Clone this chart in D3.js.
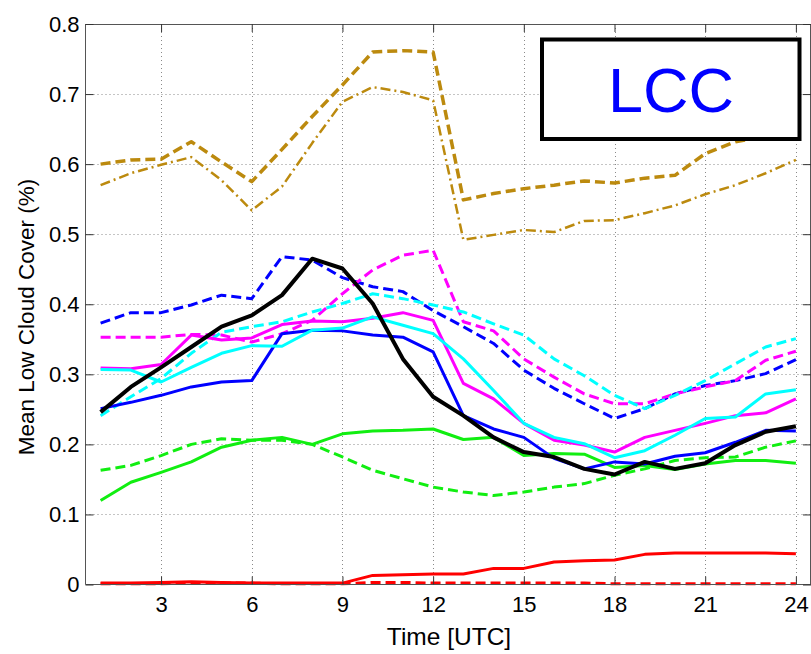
<!DOCTYPE html>
<html>
<head>
<meta charset="utf-8">
<script src="https://cdn.jsdelivr.net/npm/d3@7"></script>
<style>
  html, body { margin: 0; padding: 0; background: #fff; }
  svg { display: block; font-family: "Liberation Sans", Arial, Helvetica, sans-serif; }
</style>
</head>
<body>
<svg id="chart" width="811" height="654"></svg>
<script>
// Hour of day (UTC)
const hours = d3.range(1, 25);
const xTicks = [3, 6, 9, 12, 15, 18, 21, 24];
const yTicks = [0, 0.1, 0.2, 0.3, 0.4, 0.5, 0.6, 0.7, 0.8];

// Mean low cloud cover per hour
const goldDash = [0.600,0.606,0.607,0.632,0.603,0.575,0.621,0.668,0.713,0.760,0.762,0.760,0.549,0.558,0.565,0.570,0.576,0.573,0.580,0.584,0.615,0.632,0.640,0.646];
const goldDashDot = [0.570,0.587,0.599,0.610,0.577,0.534,0.568,0.630,0.689,0.710,0.703,0.691,0.492,0.499,0.506,0.503,0.519,0.520,0.530,0.541,0.557,0.570,0.587,0.606];
const blueDash = [0.373,0.388,0.388,0.399,0.413,0.408,0.468,0.463,0.438,0.425,0.418,0.391,0.368,0.344,0.306,0.280,0.258,0.237,0.251,0.272,0.284,0.291,0.301,0.321];
const magentaDash = [0.353,0.353,0.353,0.357,0.356,0.346,0.358,0.377,0.415,0.449,0.470,0.477,0.375,0.362,0.322,0.296,0.272,0.258,0.258,0.272,0.282,0.291,0.320,0.333];
const cyanDash = [0.241,0.268,0.294,0.330,0.360,0.368,0.375,0.389,0.401,0.415,0.408,0.399,0.389,0.372,0.356,0.322,0.298,0.270,0.251,0.270,0.291,0.315,0.339,0.351];
const greenDash = [0.163,0.170,0.184,0.200,0.208,0.206,0.206,0.200,0.182,0.163,0.151,0.139,0.132,0.127,0.132,0.139,0.144,0.156,0.165,0.177,0.181,0.182,0.196,0.205];
const redDash = [0.001,0.001,0.001,0.002,0.002,0.002,0.001,0.001,0.001,0.003,0.003,0.002,0.002,0.002,0.002,0.002,0.002,0.001,0.001,0.001,0.001,0.001,0.001,0.001];
const blueSolid = [0.251,0.260,0.270,0.282,0.289,0.291,0.358,0.363,0.362,0.356,0.353,0.332,0.241,0.222,0.210,0.180,0.165,0.175,0.172,0.183,0.188,0.203,0.220,0.219];
const magentaSolid = [0.309,0.308,0.314,0.356,0.349,0.352,0.371,0.376,0.375,0.380,0.388,0.377,0.287,0.265,0.230,0.206,0.199,0.189,0.210,0.220,0.230,0.241,0.245,0.265];
const cyanSolid = [0.307,0.306,0.289,0.310,0.330,0.341,0.340,0.363,0.366,0.382,0.370,0.358,0.322,0.277,0.230,0.210,0.201,0.181,0.191,0.213,0.237,0.239,0.272,0.278];
const greenSolid = [0.120,0.146,0.160,0.175,0.196,0.206,0.210,0.200,0.215,0.219,0.220,0.222,0.207,0.210,0.184,0.187,0.186,0.167,0.170,0.164,0.172,0.177,0.177,0.173];
const redSolid = [0.002,0.002,0.003,0.004,0.003,0.002,0.002,0.002,0.002,0.013,0.014,0.015,0.015,0.023,0.023,0.032,0.034,0.035,0.043,0.045,0.045,0.045,0.045,0.044];
const blackSolid = [0.246,0.282,0.310,0.339,0.368,0.384,0.413,0.465,0.451,0.401,0.322,0.268,0.241,0.210,0.189,0.182,0.165,0.157,0.175,0.165,0.173,0.199,0.218,0.226];

// Series styling, in drawing order
const series = [
  { values: goldDash,     color: "#BC8A0E", width: 3.5, dash: "10,5" },
  { values: goldDashDot,  color: "#BC8A0E", width: 2.5, dash: "10,4,2,4" },
  { values: blueDash,     color: "#0000FF", width: 3,   dash: "10,5" },
  { values: magentaDash,  color: "#FF00FF", width: 3,   dash: "10,5" },
  { values: cyanDash,     color: "#00FFFF", width: 3,   dash: "10,5" },
  { values: greenDash,    color: "#11EE11", width: 3,   dash: "10,5" },
  { values: redDash,      color: "#FF0000", width: 3,   dash: "10,5" },
  { values: greenSolid,   color: "#11EE11", width: 3,   dash: null },
  { values: redSolid,     color: "#FF0000", width: 3,   dash: null },
  { values: blueSolid,    color: "#0000FF", width: 3,   dash: null },
  { values: magentaSolid, color: "#FF00FF", width: 3,   dash: null },
  { values: cyanSolid,    color: "#00FFFF", width: 3,   dash: null },
  { values: blackSolid,   color: "#000000", width: 4,   dash: null }
];

const svg = d3.select("#chart");
const pLeft = 85.5, pTop = 24, pRight = 811, pBottom = 584.5;

const x = d3.scaleLinear().domain([0.5, 24.5]).range([pLeft, pRight]);
const y = d3.scaleLinear().domain([0, 0.8]).range([pBottom, pTop]);

const plot = svg.append("g");

// Dotted grid
plot.append("g").selectAll("line").data(xTicks).join("line")
  .attr("x1", d => Math.round(x(d)) + 0.5).attr("x2", d => Math.round(x(d)) + 0.5)
  .attr("y1", pTop).attr("y2", pBottom)
  .attr("stroke", "#8a8a8a").attr("stroke-width", 1).attr("stroke-dasharray", "1,3");
plot.append("g").selectAll("line").data(yTicks.slice(1)).join("line")
  .attr("x1", pLeft).attr("x2", pRight)
  .attr("y1", d => Math.round(y(d)) + 0.5).attr("y2", d => Math.round(y(d)) + 0.5)
  .attr("stroke", "#8a8a8a").attr("stroke-width", 1).attr("stroke-dasharray", "1,3");

// Data lines
const line = d3.line().x((d, i) => x(hours[i])).y(d => y(d));
plot.append("g").selectAll("path").data(series).join("path")
  .attr("d", d => line(d.values))
  .attr("fill", "none")
  .attr("stroke", d => d.color)
  .attr("stroke-width", d => d.width)
  .attr("stroke-linejoin", "round")
  .attr("stroke-dasharray", d => d.dash);

// Frame
const frame = svg.append("g").attr("stroke", "#555").attr("stroke-width", 1);
frame.append("line").attr("x1", pLeft).attr("x2", pLeft).attr("y1", pTop).attr("y2", pBottom);
frame.append("line").attr("x1", pLeft).attr("x2", pRight).attr("y1", pTop + 0.5).attr("y2", pTop + 0.5);
frame.append("line").attr("x1", pLeft).attr("x2", pRight).attr("y1", pBottom).attr("y2", pBottom);
frame.append("line").attr("x1", pRight - 0.5).attr("x2", pRight - 0.5).attr("y1", pTop).attr("y2", pBottom);

// Axes with inward ticks
const xAxisBottom = d3.axisBottom(x).tickValues(xTicks).tickSizeInner(-8).tickSizeOuter(0).tickPadding(12).tickFormat(d3.format("d"));
const xAxisTop = d3.axisTop(x).tickValues(xTicks).tickSizeInner(-8).tickSizeOuter(0).tickFormat("");
const yAxisLeft = d3.axisLeft(y).tickValues(yTicks).tickSizeInner(-8).tickSizeOuter(0).tickPadding(6)
  .tickFormat(d => d === 0 ? "0" : d3.format(".1f")(d));
const yAxisRight = d3.axisRight(y).tickValues(yTicks).tickSizeInner(-8).tickSizeOuter(0).tickFormat("");

function styleAxis(g) {
  g.select(".domain").remove();
  g.selectAll(".tick line").attr("stroke", "#333");
  g.selectAll(".tick text").attr("fill", "#000").style("font-size", "22px")
    .style("font-family", "'Liberation Sans', Arial, sans-serif");
}
svg.append("g").attr("transform", `translate(0,${pBottom})`).call(xAxisBottom).call(styleAxis);
svg.append("g").attr("transform", `translate(0,${pTop})`).call(xAxisTop).call(styleAxis);
svg.append("g").attr("transform", `translate(${pLeft},0)`).call(yAxisLeft).call(styleAxis);
svg.append("g").attr("transform", `translate(${pRight},0)`).call(yAxisRight).call(styleAxis);

// Axis titles
svg.append("text")
  .attr("x", 449).attr("y", 645)
  .attr("text-anchor", "middle")
  .style("font-size", "24.5px")
  .text("Time [UTC]");
svg.append("text")
  .attr("transform", "translate(34,317) rotate(-90)")
  .attr("text-anchor", "middle")
  .style("font-size", "22.5px")
  .text("Mean Low Cloud Cover (%)");

// Variable label box
svg.append("rect")
  .attr("x", 542).attr("y", 39.5).attr("width", 257.5).attr("height", 99.5)
  .attr("fill", "#fff").attr("stroke", "#000").attr("stroke-width", 4);
svg.append("text")
  .attr("x", 671).attr("y", 112)
  .attr("text-anchor", "middle")
  .attr("fill", "#0000FF")
  .style("font-size", "63px")
  .text("LCC");
</script>
</body>
</html>
